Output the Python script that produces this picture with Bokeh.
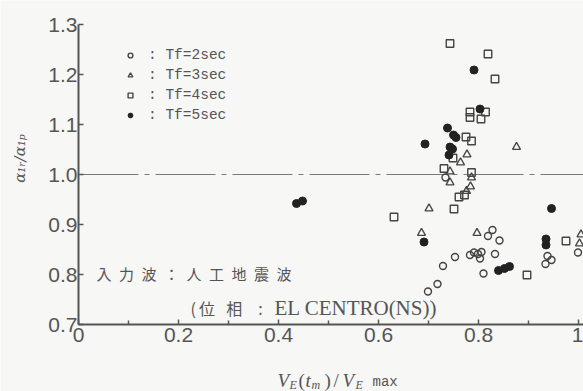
import math
from bokeh.plotting import figure
from bokeh.models import (FixedTicker, Legend, LegendItem, Label, Range1d, LinearAxis)
from bokeh.embed import file_html
from bokeh.resources import INLINE

# ---- data ----
tf2_x = [0.734, 0.828, 0.819, 0.842, 0.753, 0.783, 0.791, 0.799, 0.806, 0.803,
         0.833, 0.729, 0.718, 0.699, 0.810, 0.938, 0.946, 0.934, 0.999]
tf2_y = [0.994, 0.889, 0.877, 0.868, 0.835, 0.839, 0.844, 0.841, 0.845, 0.832,
         0.841, 0.817, 0.781, 0.766, 0.802, 0.837, 0.829, 0.821, 0.844]

tf3_x = [0.701, 0.686, 0.797, 0.876, 0.777, 0.764, 0.743, 0.786, 0.743, 0.784,
         0.776, 1.005, 1.002]
tf3_y = [0.932, 0.883, 0.883, 1.055, 1.040, 1.024, 1.006, 0.994, 0.984, 0.976,
         0.967, 0.880, 0.862]

tf4_x = [0.743, 0.819, 0.833, 0.783, 0.783, 0.814, 0.805, 0.775, 0.786, 0.749,
         0.731, 0.786, 0.761, 0.772, 0.751, 0.631, 0.975, 0.897]
tf4_y = [1.262, 1.241, 1.191, 1.125, 1.114, 1.125, 1.111, 1.075, 1.067, 1.033,
         1.012, 1.004, 0.955, 0.959, 0.931, 0.915, 0.867, 0.799]

tf5_x = [0.791, 0.803, 0.738, 0.750, 0.755, 0.693, 0.743, 0.748, 0.741, 0.436,
         0.448, 0.691, 0.946, 0.935, 0.935, 0.840, 0.852, 0.862]
tf5_y = [1.209, 1.131, 1.093, 1.079, 1.074, 1.061, 1.055, 1.051, 1.039, 0.942,
         0.947, 0.865, 0.932, 0.871, 0.859, 0.808, 0.812, 0.816]

series_labels = [": Tf=2sec", ": Tf=3sec", ": Tf=4sec", ": Tf=5sec"]

x_ticks = [0, 0.2, 0.4, 0.6, 0.8, 1.0]
x_tick_labels = ["0", "0.2", "0.4", "0.6", "0.8", "1"]
x_minor = [0.1, 0.3, 0.5, 0.7, 0.9]
y_ticks = [0.7, 0.8, 0.9, 1.0, 1.1, 1.2, 1.3]
y_tick_labels = ["0.7", "0.8", "0.9", "1.0", "1.1", "1.2", "1.3"]
ref_level = 1.0

note_line1 = "入\u2002力\u2002波\u2002：\u2002人\u2002工\u2002地\u2002震\u2002波"
note_line2a = "(\u2009位\u2002\u2009相\u2002\u2002:"
note_line2b = "EL CENTRO(NS))"
y_title = "α₁ᵣ/α₁ₚ"

# ---- layout ----
W, H = 583, 391
OX, OY = 78, 324          # pixel of the axes origin (x=0, y=0.7)
PXU = 500.0               # px per data unit (both axes)
XA, YA = 0.0, 0.7         # axes origin in data units
X_LO = XA - OX / PXU
X_HI = XA + (W - OX) / PXU
Y_LO = YA - (H - OY) / PXU
Y_HI = YA + OY / PXU
Y_TOP = 1.3

BG = "#f7f7f5"
INK = "#555555"

def dx(px):
    return XA + (px - OX) / PXU

def dy(py):
    return YA + (OY - py) / PXU

p = figure(width=W, height=H, output_backend="svg", toolbar_location=None,
           x_range=Range1d(X_LO, X_HI), y_range=Range1d(Y_LO, Y_HI),
           x_axis_type=None, y_axis_type=None,
           min_border=0)
p.background_fill_color = BG
p.border_fill_color = BG
p.outline_line_color = None
p.grid.visible = False

xax = LinearAxis(fixed_location=YA, bounds=(XA, X_HI),
                 ticker=FixedTicker(ticks=x_ticks, minor_ticks=x_minor))
xax.major_label_overrides = dict(zip(x_ticks, x_tick_labels))
xax.major_label_standoff = 3
yax = LinearAxis(fixed_location=XA, bounds=(YA, Y_TOP),
                 ticker=FixedTicker(ticks=y_ticks, minor_ticks=[]))
yax.major_label_overrides = dict(zip(y_ticks, y_tick_labels))
yax.major_label_standoff = 1

for ax in (xax, yax):
    ax.axis_line_color = INK
    ax.axis_line_width = 2
    ax.major_tick_line_color = INK
    ax.major_tick_line_width = 1.5
    ax.major_tick_in = 5
    ax.major_tick_out = 0
    ax.minor_tick_line_color = INK
    ax.minor_tick_line_width = 1.5
    ax.minor_tick_in = 4
    ax.minor_tick_out = 0
    ax.major_label_text_font = "Liberation Sans"
    ax.major_label_text_font_size = "21px"
    ax.major_label_text_color = INK
p.add_layout(xax, "below")
p.add_layout(yax, "left")

p.segment(x0=[XA], y0=[ref_level], x1=[X_HI], y1=[ref_level],
          line_color="#7a7a7a", line_width=1.2, line_dash="60 6 5 6")

r2 = p.scatter(tf2_x, tf2_y, marker="circle", size=7, fill_color=None,
               line_color="#444444", line_width=1.4)
r3 = p.scatter(tf3_x, tf3_y, marker="triangle", size=8, fill_color=None,
               line_color="#444444", line_width=1.3)
r4 = p.scatter(tf4_x, tf4_y, marker="square", size=7.5, fill_color=None,
               line_color="#444444", line_width=1.4)
r5 = p.scatter(tf5_x, tf5_y, marker="circle", size=8, fill_color="#222222",
               line_color="#222222", line_width=1)

legend = Legend(items=[LegendItem(label=lab, renderers=[r])
                       for lab, r in zip(series_labels, [r2, r3, r4, r5])],
                location=(124, 266), orientation="vertical",
                glyph_width=12, glyph_height=20, label_height=20,
                spacing=0, padding=0, margin=0, label_standoff=12,
                background_fill_alpha=0, border_line_alpha=0,
                label_text_font="Liberation Mono", label_text_font_size="14.5px",
                label_text_color=INK)
p.add_layout(legend)

# notes inside plot
p.add_layout(Label(x=dx(96), y=dy(273), text=note_line1,
                   text_font="Noto Sans CJK JP", text_font_size="15px",
                   text_color=INK, text_baseline="middle", text_align="left"))
p.add_layout(Label(x=dx(190), y=dy(307), text=note_line2a,
                   text_font="Noto Sans CJK JP", text_font_size="16px",
                   text_color=INK, text_baseline="middle", text_align="left"))
p.add_layout(Label(x=dx(274), y=dy(307), text=note_line2b,
                   text_font="Liberation Serif", text_font_size="21px",
                   text_color=INK, text_baseline="middle", text_align="left"))

# y axis title
p.add_layout(Label(x=dx(19), y=dy(158), text=y_title, angle=math.pi / 2,
                   text_font="DejaVu Serif", text_font_style="italic",
                   text_font_size="15px", text_color=INK,
                   text_align="center", text_baseline="middle"))

# x axis title  V_E(t_m)/V_E max
base = 380
sub = 384
pieces = [
    ("V", 277, base, "19px", "italic", "Liberation Serif"),
    ("E", 289, sub, "12px", "italic", "Liberation Serif"),
    ("(", 298, base, "19px", "normal", "Liberation Serif"),
    ("t", 305, base, "19px", "italic", "Liberation Serif"),
    ("m", 311, sub, "12px", "italic", "Liberation Serif"),
    (")", 324, base, "19px", "normal", "Liberation Serif"),
    ("/", 333, base, "19px", "normal", "Liberation Serif"),
    ("V", 342, base, "19px", "italic", "Liberation Serif"),
    ("E", 355, sub, "12px", "italic", "Liberation Serif"),
    ("max", 372, 381, "14px", "normal", "Liberation Mono"),
]
for txt, px, py, fs, st, fnt in pieces:
    p.add_layout(Label(x=dx(px), y=dy(py), text=txt, text_font=fnt,
                       text_font_style=st, text_font_size=fs, text_color=INK,
                       text_align="left", text_baseline="alphabetic"))

open("out.html", "w").write(file_html(p, INLINE))
